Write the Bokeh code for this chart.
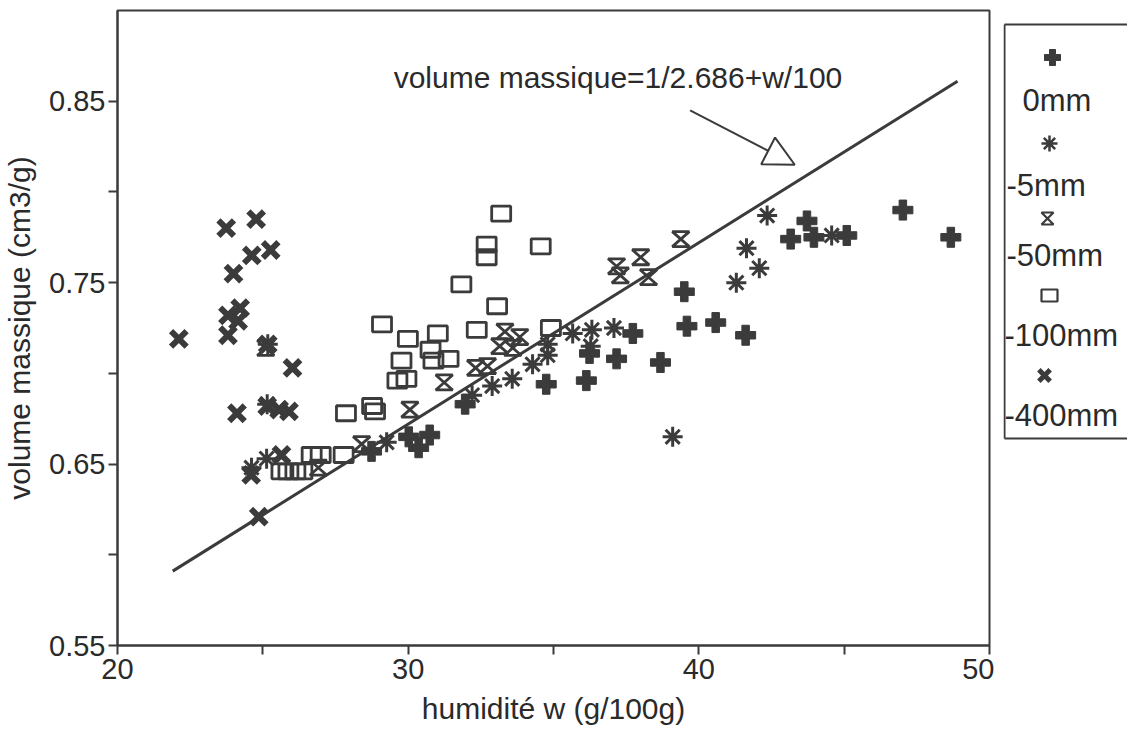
from bokeh.plotting import figure
from bokeh.models import Range1d, FixedTicker, Label, Arrow, NormalHead
from bokeh.layouts import row
from bokeh.embed import file_html
from bokeh.resources import INLINE
from bokeh.core.properties import value

# ---------------- data ----------------
w_0mm = [48.67, 47.02, 45.09, 43.96, 43.72, 43.16, 41.61, 40.58, 39.59, 39.50, 38.68,
         37.73, 37.17, 36.24, 36.13, 34.75, 31.96, 30.74, 30.36, 30.02, 28.74]
v_0mm = [0.775, 0.790, 0.776, 0.775, 0.784, 0.774, 0.721, 0.728, 0.726, 0.745, 0.706,
         0.722, 0.708, 0.711, 0.696, 0.694, 0.683, 0.666, 0.659, 0.665, 0.657]

w_5mm = [44.57, 42.35, 41.64, 42.08, 41.29, 39.10, 37.08, 36.32, 36.28, 35.66, 34.80,
         34.80, 34.28, 33.58, 32.89, 32.20, 29.26, 25.13, 24.61, 25.17, 25.15]
v_5mm = [0.776, 0.787, 0.769, 0.758, 0.750, 0.665, 0.725, 0.724, 0.715, 0.722, 0.716,
         0.710, 0.705, 0.697, 0.693, 0.688, 0.662, 0.653, 0.648, 0.716, 0.683]

w_50mm = [39.38, 38.00, 37.17, 37.30, 38.27, 33.33, 33.84, 33.15, 33.60, 32.32, 32.73,
          31.24, 30.06, 28.40, 26.91, 25.10]
v_50mm = [0.774, 0.764, 0.759, 0.754, 0.753, 0.723, 0.720, 0.715, 0.714, 0.703, 0.704,
          0.695, 0.680, 0.661, 0.648, 0.714]

w_100mm = [33.20, 32.70, 32.70, 34.56, 31.83, 33.06, 29.10, 29.99, 31.02, 32.36, 30.77,
           29.77, 30.87, 31.39, 29.63, 29.94, 27.86, 28.76, 28.86, 34.91, 26.68, 26.99,
           25.64, 25.88, 26.12, 26.36, 27.78]
v_100mm = [0.788, 0.771, 0.764, 0.770, 0.749, 0.737, 0.727, 0.719, 0.722, 0.724, 0.713,
           0.707, 0.707, 0.708, 0.696, 0.697, 0.678, 0.682, 0.679, 0.725, 0.655, 0.655,
           0.646, 0.646, 0.646, 0.646, 0.655]

w_400mm = [24.77, 23.74, 24.62, 25.27, 23.99, 24.22, 23.80, 24.15, 23.80, 22.11, 26.02,
           24.11, 25.90, 25.56, 24.60, 25.64, 24.86, 25.17, 25.15]
v_400mm = [0.785, 0.780, 0.765, 0.768, 0.755, 0.736, 0.732, 0.729, 0.721, 0.719, 0.703,
           0.678, 0.679, 0.680, 0.644, 0.655, 0.621, 0.716, 0.682]

# model line: volume massique = 1/2.686 + w/100
line_w = [21.9, 48.9]
line_v = [0.591, 0.861]

series_labels = ["0mm", "-5mm", "-50mm", "-100mm", "-400mm"]
x_ticks = [20, 30, 40, 50]
x_tick_labels = ["20", "30", "40", "50"]
x_minor = [25, 35, 45]
y_ticks = [0.55, 0.65, 0.75, 0.85]
y_tick_labels = ["0.55", "0.65", "0.75", "0.85"]
y_minor = [0.60, 0.70, 0.80]
annotation_text = "volume massique=1/2.686+w/100"
x_title = "humidité w (g/100g)"
y_title = "volume massique (cm3/g)"

# ---------------- styling ----------------
INK = "#3b3b3b"
TXT = "#2a2a2a"
FONT = "Liberation Sans"
FW, FH = 872, 635
BT, BB = 10, 90
BL, BR = 112, 5
X0, X1, Y0, Y1 = 20, 50, 0.55, 0.90

p = figure(frame_width=FW, frame_height=FH,
           min_border_left=BL, min_border_top=BT, min_border_bottom=BB, min_border_right=BR,
           x_range=Range1d(X0, X1), y_range=Range1d(Y0, Y1),
           output_backend="svg", toolbar_location=None)
p.grid.visible = False
p.outline_line_color = INK
p.outline_line_width = 2

p.xaxis.ticker = FixedTicker(ticks=x_ticks, minor_ticks=x_minor)
p.yaxis.ticker = FixedTicker(ticks=y_ticks, minor_ticks=y_minor)
p.xaxis.major_label_overrides = {t: s for t, s in zip(x_ticks, x_tick_labels)}
p.yaxis.major_label_overrides = {t: s for t, s in zip(y_ticks, y_tick_labels)}
for ax in (p.xaxis, p.yaxis):
    ax.axis_line_color = INK
    ax.axis_line_width = 2
    ax.major_tick_line_color = INK
    ax.minor_tick_line_color = INK
    ax.major_tick_line_width = 2
    ax.minor_tick_line_width = 2
    ax.major_tick_in = 0
    ax.major_tick_out = 9
    ax.minor_tick_in = 0
    ax.minor_tick_out = 9
    ax.major_label_text_font = FONT
    ax.major_label_text_font_size = "29px"
    ax.major_label_text_color = TXT
    ax.axis_label_text_font = FONT
    ax.axis_label_text_font_size = "30px"
    ax.axis_label_text_font_style = "normal"
    ax.axis_label_text_color = TXT
p.xaxis.axis_label = x_title
p.yaxis.axis_label = y_title
p.xaxis.major_label_standoff = 4
p.xaxis.axis_label_standoff = 10
p.yaxis.major_label_standoff = 3
p.yaxis.axis_label_standoff = 10

# model line
p.line(line_w, line_v, line_color=INK, line_width=3)

# annotation + arrow
p.add_layout(Label(x=29.5, y=0.863, text=annotation_text, text_font=FONT,
                   text_font_size="30px", text_color=TXT, text_baseline="middle",
                   text_align="left"))
p.add_layout(Arrow(x_start=39.7, y_start=0.845, x_end=43.3, y_end=0.815,
                   line_color=INK, line_width=2,
                   end=NormalHead(size=30, fill_color="white", line_color=INK, line_width=2)))

# series
px_x = FW / (X1 - X0)
px_y = FH / (Y1 - Y0)

p.scatter(w_0mm, v_0mm, marker="plus", size=20, fill_color=INK, line_color=INK)
p.scatter(w_5mm, v_5mm, marker="asterisk", size=20, line_color=INK, line_width=3)

hw, hh = 8.5, 7.5
hx = [[w - hw / px_x, w + hw / px_x, w - hw / px_x, w + hw / px_x] for w in w_50mm]
hy = [[v + hh / px_y, v + hh / px_y, v - hh / px_y, v - hh / px_y] for v in v_50mm]
p.patches(hx, hy, fill_alpha=0, line_color=INK, line_width=2.8)

p.rect(w_100mm, v_100mm, width=19, height=15, width_units="screen", height_units="screen",
       fill_alpha=0, line_color=INK, line_width=2.8)

p.scatter(w_400mm, v_400mm, marker="x", size=22, line_color=INK, line_width=6)

# ---------------- legend panel (coordinates in picture pixels) ----------------
ORG_X, ORG_Y = 6, 0          # where the page content starts in the picture
LX0 = ORG_X + BL + FW + BR + 9
LW = 124
lg = figure(frame_width=LW, frame_height=FH, min_border_left=9, min_border_right=0,
            min_border_top=BT, min_border_bottom=BB,
            x_range=Range1d(LX0, LX0 + LW), y_range=Range1d(ORG_Y + BT + FH, ORG_Y + BT),
            output_backend="svg", toolbar_location=None)
lg.axis.visible = False
lg.grid.visible = False
lg.outline_line_color = None

box_top, box_bot, box_left = 24, 438, 1005
lg.segment(x0=[box_left, box_left, box_left], y0=[box_top, box_top, box_bot],
           x1=[box_left, LX0 + LW, LX0 + LW], y1=[box_bot, box_top, box_bot],
           line_color=INK, line_width=2)

mk_pos = {"0mm": (1053, 57), "-5mm": (1050, 143), "-50mm": (1048, 218),
          "-100mm": (1050, 295), "-400mm": (1045, 375)}
lb_pos = {"0mm": (1023, 100), "-5mm": (1007, 185), "-50mm": (1007, 255),
          "-100mm": (1005, 335), "-400mm": (1005, 415)}

lg.scatter([mk_pos["0mm"][0]], [mk_pos["0mm"][1]], marker="plus", size=16,
           fill_color=INK, line_color=INK)
lg.scatter([mk_pos["-5mm"][0]], [mk_pos["-5mm"][1]], marker="asterisk", size=16,
           line_color=INK, line_width=2.5)
cx, cy = mk_pos["-50mm"]
lg.patches([[cx - 6, cx + 6, cx - 6, cx + 6]], [[cy - 6, cy - 6, cy + 6, cy + 6]],
           fill_alpha=0, line_color=INK, line_width=2.2)
lg.rect([mk_pos["-100mm"][0]], [mk_pos["-100mm"][1]], width=16, height=12,
        width_units="screen", height_units="screen", fill_alpha=0,
        line_color=INK, line_width=2.2)
lg.scatter([mk_pos["-400mm"][0]], [mk_pos["-400mm"][1]], marker="x", size=16,
           line_color=INK, line_width=5)
lg.text(x=[lb_pos[s][0] for s in series_labels], y=[lb_pos[s][1] for s in series_labels],
        text=series_labels, text_font=value(FONT), text_font_size="31px",
        text_color=TXT, text_baseline="middle", text_align="left")

layout = row(p, lg, spacing=0)
open("out.html", "w").write(file_html(layout, INLINE))
